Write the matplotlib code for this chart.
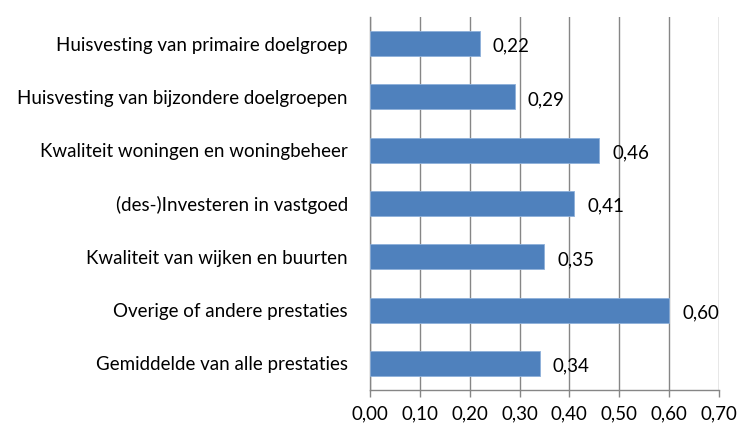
import matplotlib.pyplot as plt
import numpy as np

categories = [
    "Huisvesting van primaire doelgroep",
    "Huisvesting van bijzondere doelgroepen",
    "Kwaliteit woningen en woningbeheer",
    "(des-)Investeren in vastgoed",
    "Kwaliteit van wijken en buurten",
    "Overige of andere prestaties",
    "Gemiddelde van alle prestaties",
]
values = [0.22, 0.29, 0.46, 0.41, 0.35, 0.60, 0.34]
xticks = [0.0, 0.1, 0.2, 0.3, 0.4, 0.5, 0.6, 0.7]

plt.rcParams['font.family'] = ['Lato', 'DejaVu Sans']

fig = plt.figure(figsize=(7.4, 4.28), dpi=100)
ax = fig.add_axes([0.5, 0.0888, 0.4716, 0.8715])

grid_col = "#868686"
fs = 13.5
y = np.arange(len(categories))
ax.barh(y, values, height=0.47, color="#4F81BD", edgecolor="#8DB0DA", linewidth=0.6, zorder=3)

# value labels to the right of every bar
for yi, v in zip(y, values):
    ax.text(v + 0.026, yi + 0.05, f"{v:.2f}".replace(".", ","), va="center", ha="left",
            fontsize=fs, color="#000000", zorder=4)

ax.set_ylim(len(categories) - 0.5, -0.5)
ax.set_xlim(0, 0.7)
ax.set_yticks(y)
ax.set_yticklabels(categories, fontsize=fs)
ax.set_xticks(xticks)
ax.set_xticklabels([f"{t:.2f}".replace(".", ",") for t in xticks], fontsize=fs)

ax.xaxis.grid(True, color=grid_col, linewidth=1.0, zorder=0)
ax.set_axisbelow(True)
for s in ["top", "right"]:
    ax.spines[s].set_visible(False)
for s in ["left", "bottom"]:
    ax.spines[s].set_color(grid_col)
    ax.spines[s].set_linewidth(1.0)

ax.tick_params(axis="y", length=0, pad=16)
ax.tick_params(axis="x", length=5, color=grid_col, width=1.0, pad=6)

fig.savefig("out.png", dpi=100)
